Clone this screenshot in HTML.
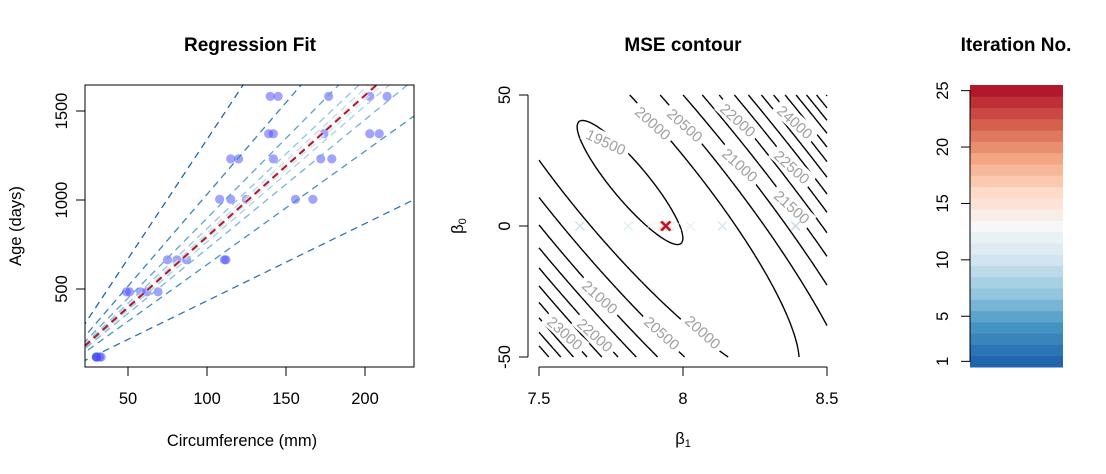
<!DOCTYPE html>
<html><head><meta charset="utf-8">
<style>
html,body{margin:0;padding:0;background:#fff;}
svg{display:block;font-family:"Liberation Sans",Arial,sans-serif;}
</style></head>
<body>
<svg id="s" width="1106" height="474" xmlns="http://www.w3.org/2000/svg">
<text x="250" y="51" font-size="19" font-weight="bold" text-anchor="middle">Regression Fit</text>
<text x="683" y="51" font-size="19" font-weight="bold" text-anchor="middle">MSE contour</text>
<text x="1016" y="51" font-size="19" font-weight="bold" text-anchor="middle">Iteration No.</text>
<defs><clipPath id="cl"><rect x="85" y="85" width="329" height="282"/></clipPath></defs>
<g id="left" clip-path="url(#cl)"></g>
<rect x="85" y="85" width="329" height="282" fill="none" stroke="#000" stroke-width="1"/>
<g stroke="#000" stroke-width="1">
<line x1="128" y1="367" x2="128" y2="376"/><line x1="207" y1="367" x2="207" y2="376"/>
<line x1="286" y1="367" x2="286" y2="376"/><line x1="365" y1="367" x2="365" y2="376"/>
<line x1="85" y1="111" x2="76" y2="111"/><line x1="85" y1="200" x2="76" y2="200"/><line x1="85" y1="289" x2="76" y2="289"/>
</g>
<g font-size="16.5" text-anchor="middle">
<text x="128" y="404">50</text><text x="207" y="404">100</text><text x="286" y="404">150</text><text x="365" y="404">200</text>
<text transform="translate(67,111) rotate(-90)">1500</text>
<text transform="translate(67,200) rotate(-90)">1000</text>
<text transform="translate(67,289) rotate(-90)">500</text>
<text transform="translate(21,226) rotate(-90)">Age (days)</text>
<text x="242" y="446">Circumference (mm)</text>
</g>
<g id="mid"></g>
<g stroke="#000" stroke-width="1">
<line x1="528" y1="95" x2="528" y2="357"/>
<line x1="528" y1="95" x2="519" y2="95"/><line x1="528" y1="226" x2="519" y2="226"/><line x1="528" y1="357" x2="519" y2="357"/>
<line x1="539" y1="367" x2="827" y2="367"/>
<line x1="539" y1="367" x2="539" y2="376"/><line x1="683" y1="367" x2="683" y2="376"/><line x1="827" y1="367" x2="827" y2="376"/>
</g>
<g font-size="16.5" text-anchor="middle">
<text x="539" y="404">7.5</text><text x="683" y="404">8</text><text x="827" y="404">8.5</text>
<text transform="translate(510,95) rotate(-90)">50</text>
<text transform="translate(510,226) rotate(-90)">0</text>
<text transform="translate(510,357) rotate(-90)">-50</text>
<text x="683" y="444">β<tspan font-size="11" dy="3">1</tspan></text>
<text transform="translate(463,226) rotate(-90)">β<tspan font-size="11" dy="3">0</tspan></text>
</g>
<g id="cb"></g>
<g stroke="#000" stroke-width="1">
<line x1="970" y1="90" x2="970" y2="362"/>
</g>
<g id="cbt" font-size="16.5" text-anchor="middle"></g>
</svg>
<script>
var NS="http://www.w3.org/2000/svg";
function el(p,t,a){var e=document.createElementNS(NS,t);for(var k in a)e.setAttribute(k,a[k]);p.appendChild(e);return e;}
var base=["#2166AC","#4393C3","#92C5DE","#D1E5F0","#F7F7F7","#FDDBC7","#F4A582","#D6604D","#B2182B"];
function hx(c){return [parseInt(c.substr(1,2),16),parseInt(c.substr(3,2),16),parseInt(c.substr(5,2),16)];}
var pal=[];
for(var i=0;i<25;i++){var t=i/24*8,k=Math.min(7,Math.floor(t)),f=t-k;var a=hx(base[k]),b=hx(base[k+1]);
pal.push("rgb("+[0,1,2].map(function(j){return Math.round(a[j]+(b[j]-a[j])*f)}).join(",")+")");}
var cb=document.getElementById("cb"),cbt=document.getElementById("cbt");
var bh=282/25;
for(var i=0;i<25;i++){el(cb,"rect",{x:970,y:367-(i+1)*bh,width:93,height:bh+0.5,fill:pal[i]});}
[1,5,10,15,20,25].forEach(function(v){var y=367-(v-0.5)*bh;
el(cb,"line",{x1:970,y1:y,x2:961,y2:y,stroke:"#000"});
var t=el(cbt,"text",{transform:"translate(948,"+y+") rotate(-90)"});t.textContent=v;});
var ages=[118,484,664,1004,1231,1372,1582];
var circ=[[30,58,87,115,120,142,145],[33,69,111,156,172,203,203],[30,51,75,108,115,139,140],[32,62,112,167,179,209,214],[30,49,81,125,142,174,177]];
var X=[],Y=[];circ.forEach(function(r){r.forEach(function(c,j){X.push(c);Y.push(ages[j]);});});
var L=document.getElementById("left");
function px(c){return 128+(c-50)*1.58;} function py(a){return 289-(a-500)*0.178;}
X.forEach(function(c,i){el(L,"circle",{cx:px(c),cy:py(Y[i]),r:4.6,fill:"rgba(70,70,255,0.5)"});});
var bs=[];for(var k=0;k<25;k++)bs.push(7.94+5.46*Math.pow(-0.66,k));
bs.forEach(function(b,k){
 el(L,"line",{x1:px(0),y1:py(0),x2:px(260),y2:py(260*b),stroke:pal[k],"stroke-width":k==24?2:1.3,"stroke-dasharray":"7,5"});
});
var M=document.getElementById("mid");
function cost(b1,b0){var s=0;for(var i=0;i<X.length;i++){var r=Y[i]-b0-b1*X[i];s+=r*r;}return s/(2*X.length);}
var NX=160,NY=160,G=[];
for(var i=0;i<=NX;i++){G.push([]);for(var j=0;j<=NY;j++){G[i].push(cost(7.5+i/NX,-50+100*j/NY));}}
function sx(i){return 539+288*i/NX;} function sy(j){return 357-262*j/NY;}
var d="";
for(var lev=19500;lev<=30000;lev+=500){
 for(var i=0;i<NX;i++)for(var j=0;j<NY;j++){
  var v=[G[i][j],G[i+1][j],G[i+1][j+1],G[i][j+1]];
  var P=[[i,j],[i+1,j],[i+1,j+1],[i,j+1]];var pts=[];
  for(var e=0;e<4;e++){var a=v[e],b=v[(e+1)%4];
   if((a<lev)!=(b<lev)){var f=(lev-a)/(b-a);var p0=P[e],p1=P[(e+1)%4];
    pts.push([sx(p0[0]+(p1[0]-p0[0])*f),sy(p0[1]+(p1[1]-p0[1])*f)]);}}
  for(var q=0;q+1<pts.length;q+=2)d+="M"+pts[q][0].toFixed(1)+" "+pts[q][1].toFixed(1)+"L"+pts[q+1][0].toFixed(1)+" "+pts[q+1][1].toFixed(1);
 }}
el(M,"path",{d:d,stroke:"#000","stroke-width":1.4,fill:"none"});
var labs=[["20000",653,123,42],["20500",685,125,42],["22000",738,120,42],["24000",795,122,42],["19500",606,142,25],
["21000",740,165,42],["22500",792,167,42],["21500",792,207,42],["21000",600,297,42],["23000",565,333,42],
["22000",595,335,42],["20500",662,333,42],["20000",703,332,42]];
labs.forEach(function(l){var g=el(M,"g",{transform:"translate("+l[1]+","+l[2]+") rotate("+l[3]+")"});
 el(g,"rect",{x:-25,y:-9,width:50,height:17,fill:"#fff"});
 var t=el(g,"text",{x:0,y:5.5,"font-size":15,"text-anchor":"middle",fill:"#a0a0a0"});t.textContent=l[0];});
bs.forEach(function(b,k){if(b<7.5||b>8.5)return;var x=539+(b-7.5)*288,y=226,s=4.5;
 var last=k==24;var g=el(M,"g",{stroke:pal[k],"stroke-width":last?2.4:1.5,opacity:last?1:0.6});
 el(g,"line",{x1:x-s,y1:y-s,x2:x+s,y2:y+s});el(g,"line",{x1:x-s,y1:y+s,x2:x+s,y2:y-s});});
</script>
</body></html>
